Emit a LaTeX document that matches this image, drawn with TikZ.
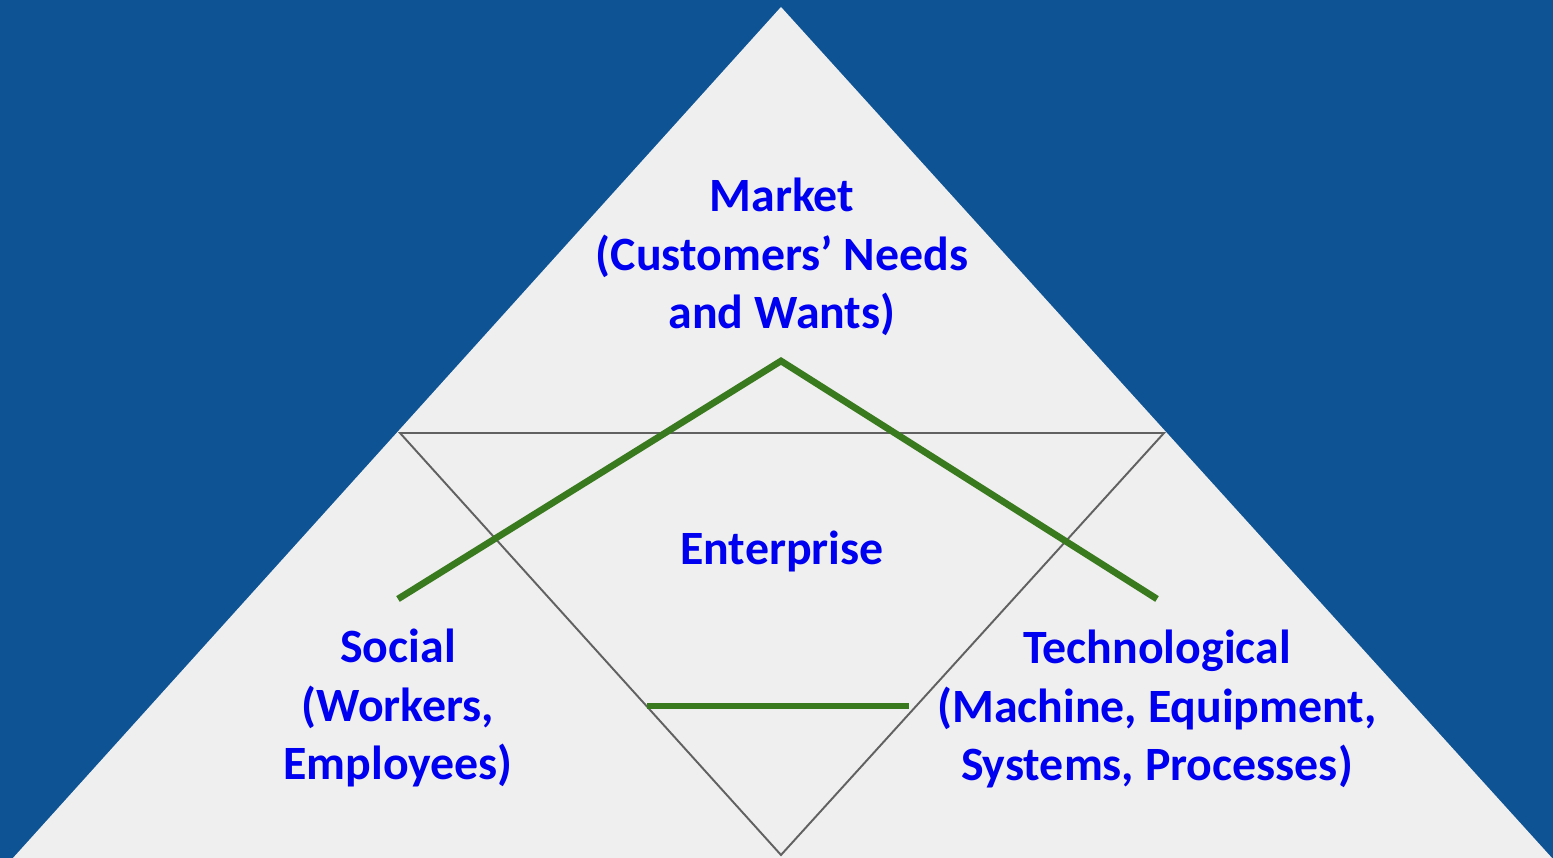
\documentclass[tikz,border=0pt]{standalone}
\usepackage{fontspec}
\setmainfont{Carlito}
\usetikzlibrary{positioning}
\definecolor{bgblue}{HTML}{0E5494}
\definecolor{pyrgray}{HTML}{EFEFEF}
\definecolor{txtblue}{RGB}{0,0,240}
\definecolor{linkgreen}{HTML}{3A7A1E}
\tikzset{>=stealth}

\begin{document}
\begin{tikzpicture}[x=0.01cm, y=0.01cm,
    label/.style={align=center, text=txtblue, font=\fontsize{13.6}{16.6}\selectfont\bfseries, inner sep=0pt},
    frame/.style={draw=black!62, line width=0.55pt},
    link/.style={draw=linkgreen, line width=1.9pt}]
    \fill[bgblue](0,0)rectangle(1553,858);
    \useasboundingbox(0,0)rectangle(1553,858);

    % outer pyramid
    \coordinate(top)at(781,851);
    \coordinate(bl)at(13,0);
    \coordinate(br)at(1552,0);
    \fill[pyrgray](top)--(bl)--(br)--cycle;

    % inner triangle
    \coordinate(il)at(400,425);
    \coordinate(ir)at(1164,425);
    \coordinate(ib)at(781,3);
    \draw[frame](il)--(ir)--(ib)--cycle;

    % texts
    \node[label](market)at(782,601){Market\\(Customers’ Needs\\and Wants)};
    \node[label](ent)at(782,307){Enterprise};
    \node[label](social)at(398,150){Social\\(Workers,\\Employees)};
    \node[label](tech)at(1157,149){Technological\\(Machine, Equipment,\\Systems, Processes)};

    % links
    \coordinate(gl)at(398,259);
    \coordinate(gt)at(781,497);
    \coordinate(gr)at(1157,259);
    \coordinate(hl)at(647,152);
    \coordinate(hr)at(909,152);
    \draw[link](gl)--(gt)--(gr);
    \draw[link](hl)--(hr);
\end{tikzpicture}
\end{document}
